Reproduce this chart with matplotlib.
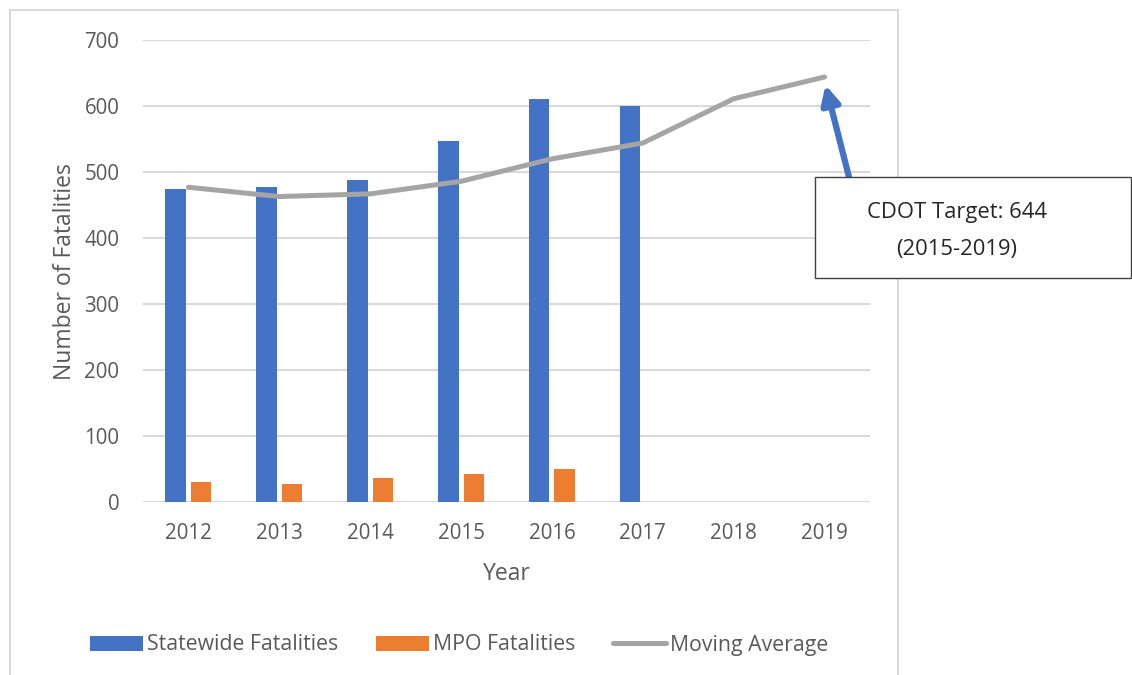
import matplotlib
matplotlib.use("Agg")
import matplotlib.pyplot as plt
import numpy as np
from matplotlib.patches import Patch, Rectangle
from matplotlib.lines import Line2D

plt.rcParams["font.family"] = ["Open Sans", "DejaVu Sans"]

years = ["2012", "2013", "2014", "2015", "2016", "2017", "2018", "2019"]
statewide = [474, 477, 488, 547, 610, 600, None, None]
mpo = [31, 27, 37, 43, 50, None, None, None]
moving_avg = [477, 463, 467, 486, 520, 544, 611, 644]
target_label = "CDOT Target: 644\n(2015-2019)"

BLUE = "#4472c4"
ORANGE = "#ed7d31"
GRAY = "#a5a5a5"
GRID = "#d9d9d9"
TEXT = "#595959"

W, H = 1132, 675
fig = plt.figure(figsize=(W / 100, H / 100), dpi=100)
fig.patch.set_facecolor("white")


def fx(px):
    return px / W


def fy(py):
    return 1 - py / H


# chart frame
fig.add_artist(Line2D([fx(10), fx(10)], [fy(10), 0], color=GRID, lw=1.5))
fig.add_artist(Line2D([fx(10), fx(898)], [fy(10), fy(10)], color=GRID, lw=1.5))
fig.add_artist(Line2D([fx(898), fx(898)], [fy(10), 0], color=GRID, lw=1.5))

ax = fig.add_axes([fx(143), fy(502.3), fx(870) - fx(143), fy(40) - fy(502.3)])
x = np.arange(len(years))

sw_vals = np.array([np.nan if v is None else v for v in statewide], dtype=float)
mpo_vals = np.array([np.nan if v is None else v for v in mpo], dtype=float)
width = 0.225
ax.bar(x - 0.14, sw_vals, width, color=BLUE, zorder=3, label="Statewide Fatalities")
ax.bar(x + 0.14, mpo_vals, width, color=ORANGE, zorder=3, label="MPO Fatalities")
ax.plot(x, moving_avg, color=GRAY, lw=3.6, solid_capstyle="round",
        solid_joinstyle="round", zorder=4, label="Moving Average")

ax.set_xlim(-0.5, len(years) - 0.5)
ax.set_ylim(0, 700)
ax.set_yticks(range(0, 701, 100))
ax.set_xticks(x)
ax.set_xticklabels(years)
ax.yaxis.grid(True, color=GRID, lw=1.5, zorder=0)
ax.set_axisbelow(True)
for s in ax.spines.values():
    s.set_visible(False)
ax.tick_params(axis="both", length=0, labelsize=14.8, labelcolor=TEXT)
ax.tick_params(axis="y", pad=17)
ax.tick_params(axis="x", pad=15)
ax.set_xlabel("Year", fontsize=16.5, color=TEXT, labelpad=13)
ax.set_ylabel("Number of Fatalities", fontsize=16.5, color=TEXT, labelpad=5)

# target callout
ax.annotate(
    "",
    xy=(7.01, 632), xytext=(7.27, 492),
    arrowprops=dict(arrowstyle="-|>,head_length=1.1,head_width=0.55",
                    color=BLUE, lw=4.5, shrinkA=0, shrinkB=0),
    zorder=5, annotation_clip=False,
)
fig.add_artist(Rectangle((fx(815), fy(278)), fx(1131) - fx(815), fy(177) - fy(278),
                         facecolor="white", edgecolor="#404040", lw=1.0, zorder=6))
fig.text(fx(957), fy(231.5), target_label, ha="center", va="center", fontsize=15.8,
         color="#262626", linespacing=2.0, zorder=7)

handles = [
    Patch(facecolor=BLUE, label="Statewide Fatalities"),
    Patch(facecolor=ORANGE, label="MPO Fatalities"),
    Line2D([0], [0], color=GRAY, lw=3.6, solid_capstyle="round", label="Moving Average"),
]
fig.legend(handles=handles, loc="center", bbox_to_anchor=(fx(459), fy(645)), ncol=3,
           frameon=False, fontsize=15.3, labelcolor=TEXT, handlelength=2.5,
           handleheight=0.7, handletextpad=0.2, columnspacing=1.75)

fig.savefig("out.png", dpi=100)
